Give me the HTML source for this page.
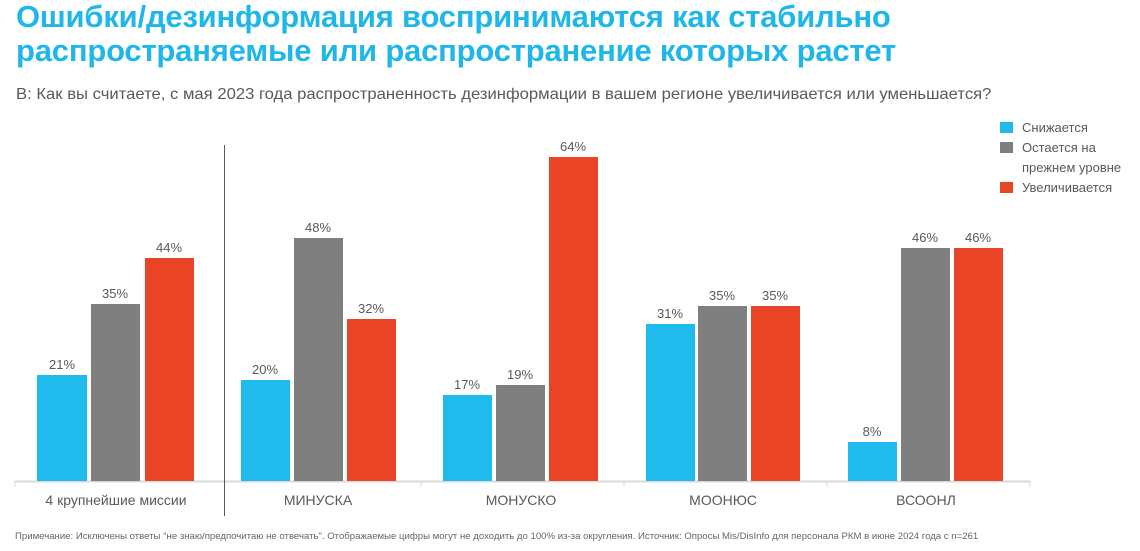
<!DOCTYPE html>
<html><head><meta charset="utf-8"><style>
body{margin:0;width:1140px;height:551px;background:#fff;font-family:"Liberation Sans",Arial,sans-serif;overflow:hidden;position:relative}
.t{position:absolute;left:16px;top:0px;color:#1fb7ea;font-weight:bold;font-size:31px;line-height:34px;letter-spacing:-0.2px;white-space:nowrap}
.q{position:absolute;left:16px;top:86px;color:#595959;font-size:16px;transform:scaleX(1.04);transform-origin:left;white-space:nowrap}
.f{position:absolute;left:15px;top:531px;color:#666;font-size:9.6px;white-space:nowrap}
</style></head><body>
<div class="t">Ошибки/дезинформация воспринимаются как стабильно<br>распространяемые или распространение которых растет</div>
<div class="q">В: Как вы считаете, с мая 2023 года распространенность дезинформации в вашем регионе увеличивается или уменьшается?</div>
<svg width="1140" height="551" style="position:absolute;left:0;top:0" font-family="Liberation Sans, Arial, sans-serif">
<line x1="15" y1="481.5" x2="1030" y2="481.5" stroke="#d9d9d9" stroke-width="2"/>
<g stroke="#d9d9d9" stroke-width="1">
<line x1="15" y1="481" x2="15" y2="487"/><line x1="421" y1="481" x2="421" y2="487"/><line x1="624" y1="481" x2="624" y2="487"/><line x1="827" y1="481" x2="827" y2="487"/><line x1="1030" y1="481" x2="1030" y2="487"/>
</g>
<line x1="224.5" y1="145" x2="224.5" y2="516" stroke="#595959" stroke-width="1"/>
<g font-size="14" fill="#595959" text-anchor="middle">
<text x="116" y="505">4 крупнейшие миссии</text>
<text x="318" y="505">МИНУСКА</text>
<text x="521" y="505">МОНУСКО</text>
<text x="723" y="505">МООНЮС</text>
<text x="926" y="505">ВСООНЛ</text>
</g>
<g font-size="13">
<rect x="1000" y="122" width="13" height="11" fill="#1fbbed"/><text x="1022" y="132" fill="#595959">Снижается</text>
<rect x="1000" y="142" width="13" height="11" fill="#7f7f7f"/><text x="1022" y="152" fill="#595959">Остается на</text><text x="1022" y="172" fill="#595959">прежнем уровне</text>
<rect x="1000" y="182" width="13" height="11" fill="#e94426"/><text x="1022" y="192" fill="#595959">Увеличивается</text>
</g>
<g font-size="13" fill="#595959" text-anchor="middle">
<rect x="37" y="375" width="50" height="106" fill="#1fbbed"/><text x="62" y="369">21%</text>
<rect x="91" y="304" width="49" height="177" fill="#7f7f7f"/><text x="115" y="298">35%</text>
<rect x="145" y="258" width="49" height="223" fill="#e94426"/><text x="169" y="252">44%</text>

<rect x="241" y="380" width="49" height="101" fill="#1fbbed"/><text x="265" y="374">20%</text>
<rect x="294" y="238" width="49" height="243" fill="#7f7f7f"/><text x="318" y="232">48%</text>
<rect x="347" y="319" width="49" height="162" fill="#e94426"/><text x="371" y="313">32%</text>

<rect x="443" y="395" width="49" height="86" fill="#1fbbed"/><text x="467" y="389">17%</text>
<rect x="496" y="385" width="49" height="96" fill="#7f7f7f"/><text x="520" y="379">19%</text>
<rect x="549" y="157" width="49" height="324" fill="#e94426"/><text x="573" y="151">64%</text>

<rect x="646" y="324" width="49" height="157" fill="#1fbbed"/><text x="670" y="318">31%</text>
<rect x="698" y="306" width="49" height="175" fill="#7f7f7f"/><text x="722" y="300">35%</text>
<rect x="751" y="306" width="49" height="175" fill="#e94426"/><text x="775" y="300">35%</text>

<rect x="848" y="442" width="49" height="39" fill="#1fbbed"/><text x="872" y="436">8%</text>
<rect x="901" y="248" width="49" height="233" fill="#7f7f7f"/><text x="925" y="242">46%</text>
<rect x="954" y="248" width="49" height="233" fill="#e94426"/><text x="978" y="242">46%</text>
</g>
</svg>
<div class="f">Примечание: Исключены ответы "не знаю/предпочитаю не отвечать". Отображаемые цифры могут не доходить до 100% из-за округления. Источник: Опросы Mis/DisInfo для персонала РКМ в июне 2024 года с n=261</div>
</body></html>
